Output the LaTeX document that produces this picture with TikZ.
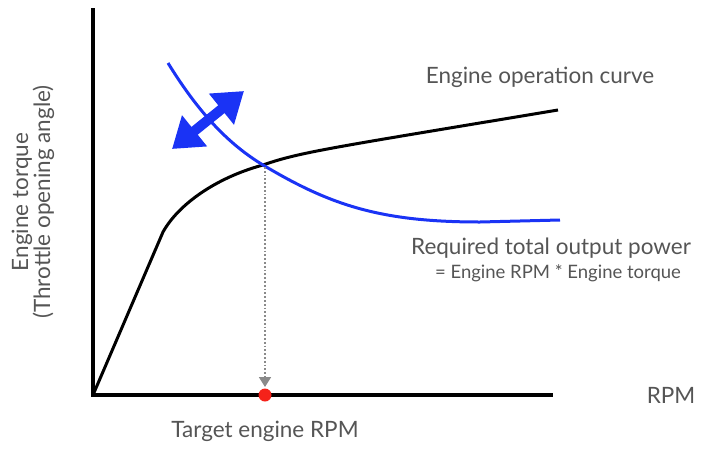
\documentclass[tikz,border=0pt]{standalone}
\usepackage{fontspec}
\setmainfont{Lato}
\usetikzlibrary{arrows.meta}
\definecolor{txtgray}{HTML}{555555}
\definecolor{curveblue}{HTML}{1A33F5}
\definecolor{dotred}{HTML}{F5221A}
\definecolor{dropgray}{HTML}{8A8A8A}
\tikzset{
  axis/.style={line width=3.8pt, black},
  opcurve/.style={line width=3pt, black, line join=round},
  powcurve/.style={line width=3pt, curveblue},
  lbl/.style={text=txtgray, font=\fontsize{22.5}{24}\selectfont, inner sep=0pt},
  sublbl/.style={text=txtgray, font=\fontsize{18.5}{20}\selectfont, inner sep=0pt},
}
\begin{document}
\begin{tikzpicture}[x=1pt,y=-1pt]
\useasboundingbox (0,0) rectangle (705,448);
% axes
\coordinate (O) at (93,395);
\coordinate (ytop) at (93,8);
\coordinate (xend) at (553,395);
\draw[axis] (ytop) -- (O) -- (xend);
% engine operation curve
\coordinate (k) at (163,232);
\coordinate (op) at (263,165);
\coordinate (opend) at (558,110);
\draw[opcurve] (O) -- (k) .. controls (178,205) and (215,178) .. (op)
  .. controls (300,152) and (330,148) .. (opend);
% required power curve
\coordinate (pstart) at (168,63);
\coordinate (pend) at (560,220);
\draw[powcurve] (pstart) .. controls (200,115) and (230,145) .. (op)
  .. controls (330,205) and (380,222) .. (480,222) -- (pend);
% adjustment arrow
\coordinate (a1) at (172,149);
\coordinate (a2) at (244,91);
\draw[line width=10pt, curveblue,
  {Triangle[width=38pt,length=29pt]}-{Triangle[width=38pt,length=29pt]}] (a1) -- (a2);
% drop to target rpm
\coordinate (tgt) at (265,395);
\coordinate (dropend) at (265,387);
\draw[line width=1.8pt, dropgray, dotted, -{Triangle[width=12pt,length=10pt]}] (265,167) -- (dropend);
\fill[dotred] (tgt) circle (6.5pt);
% labels
\node[lbl] (lop) at (540,77) {Engine operation curve};
\node[lbl] (lreq) at (551,248) {Required total output power};
\node[sublbl] (lfor) at (558,273) {= Engine RPM * Engine torque};
\node[lbl] (lrpm) at (671,395) {RPM};
\node[lbl] (ltgt) at (265,431) {Target engine RPM};
\node[lbl, rotate=90, align=center, font=\fontsize{22.5}{22}\selectfont] (ly) at (33,202) {Engine torque\\(Throttle opening angle)};
\end{tikzpicture}
\end{document}
